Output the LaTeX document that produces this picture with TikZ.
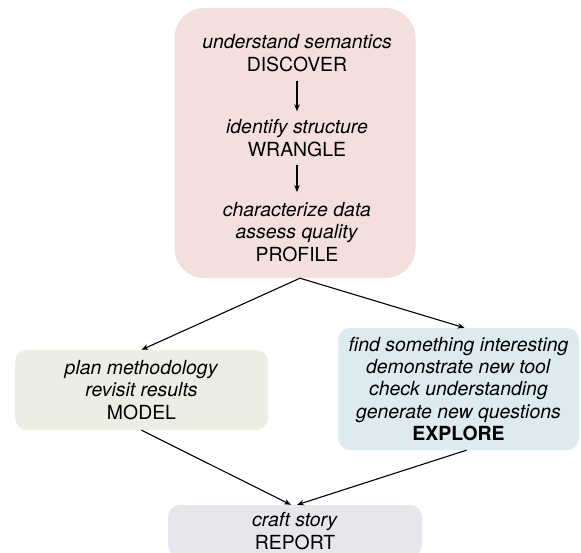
\documentclass[tikz,border=0pt]{standalone}
\usepackage{fontspec}
\setmainfont{TeX Gyre Heros}
\usepackage{xcolor}
\usetikzlibrary{arrows.meta, calc}

\definecolor{discoverpink}{RGB}{243,223,222}
\definecolor{modelgreen}{RGB}{236,238,227}
\definecolor{exploreblue}{RGB}{221,234,238}
\definecolor{reportgrey}{RGB}{231,230,236}

\tikzset{
	phase/.style = {align = center, inner sep = 0pt, font = \fontsize{19.5}{22.5}\selectfont},
	stagebox/.style = {rounded corners = 12bp, minimum width = #1, phase},
	flow/.style = {-{Stealth[length = 7bp, width = 5.5bp]}, line width = 1.1bp}
}

\begin{document}
\begin{tikzpicture}[x = 1bp, y = -1bp]
			\clip (0,0) rectangle (581,553);

			\def\W{253};
			\def\H{80};

			% the big first stage
			\node [fill = discoverpink, rounded corners = 30bp, minimum width = 241bp, minimum height = 270bp] (top) at (295,143) {};

			\begin{scope}[phase]
				\node [phase] (discover) at (297,53) {\textit{understand semantics}\\DISCOVER};
				\node [phase] (wrangle) at (297,138) {\textit{identify structure}\\WRANGLE};
				\node [phase] (profile) at (297,232) {\textit{characterize data}\\\textit{assess quality}\\PROFILE};
			\end{scope}

			\draw [flow, shorten <= 9bp, shorten >= 8bp] (discover) -- (wrangle);
			\draw [flow, shorten <= 8bp, shorten >= 10bp] (wrangle) -- (profile);

			% the two middle stages
			\node [stagebox = \W bp, fill = modelgreen, minimum height = \H bp] (model) at (141.5,390) {\textit{plan methodology}\\\textit{revisit results}\\MODEL};
			\node [stagebox = 241bp, fill = exploreblue, minimum height = 122bp] (explore) at (458.5,389) {\textit{find something interesting}\\\textit{demonstrate new tool}\\\textit{check understanding}\\\textit{generate new questions}\\\textbf{EXPLORE}};

			% last stage, cut by the page
			\node [stagebox = 254bp, fill = reportgrey, minimum height = 52bp] (report) at (295,531) {\textit{craft story}\\REPORT};

			\begin{scope}[flow]
				\draw ([xshift = 5bp]top.south) -- (model.north);
				\draw ([xshift = 5bp]top.south) -- ([xshift = 6bp]explore.north);
				\draw (model.south) -- ([xshift = -4bp]report.north);
				\draw ([xshift = 8bp]explore.south) -- ([xshift = 2bp]report.north);
			\end{scope}
		\end{tikzpicture}
\end{document}
